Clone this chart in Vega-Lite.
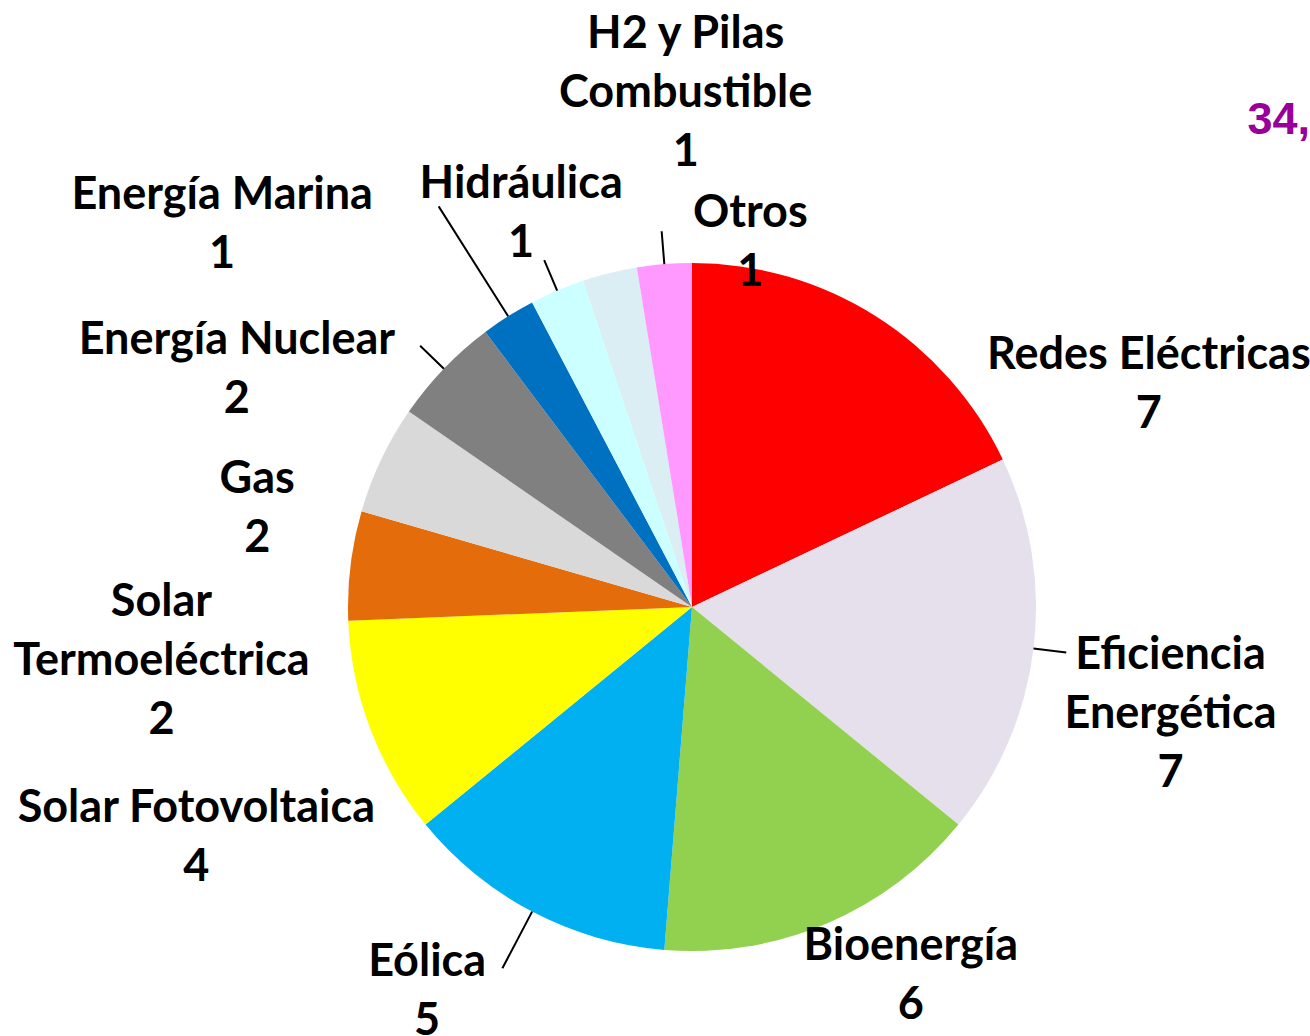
{
  "$schema": "https://vega.github.io/schema/vega-lite/v6.json",
  "width": 1236,
  "height": 858,
  "autosize": {"type": "none"},
  "padding": {"left": 74, "top": 178, "right": 0, "bottom": 0},
  "background": "white",
  "config": {"view": {"stroke": null}, "text": {"font": "Lato", "fontSize": 45, "fontWeight": "bold", "lineHeight": 59, "lineBreak": "\n", "align": "center", "color": "#000000"}},
  "data": {"values": [
    {"category": "Redes Eléctricas", "value": 7},
    {"category": "Eficiencia\nEnergética", "value": 7},
    {"category": "Bioenergía", "value": 6},
    {"category": "Eólica", "value": 5},
    {"category": "Solar Fotovoltaica", "value": 4},
    {"category": "Solar\nTermoeléctrica", "value": 2},
    {"category": "Gas", "value": 2},
    {"category": "Energía Nuclear", "value": 2},
    {"category": "Energía Marina", "value": 1},
    {"category": "Hidráulica", "value": 1},
    {"category": "H2 y Pilas\nCombustible", "value": 1},
    {"category": "Otros", "value": 1}
  ]},
  "transform": [
    {"window": [{"op": "row_number", "as": "rank"}]},
    {"calculate": "datum.category + '\\n' + datum.value", "as": "label"}
  ],
  "layer": [
    {
      "mark": {"type": "arc", "outerRadius": 344},
      "encoding": {
        "theta": {"field": "value", "type": "quantitative", "stack": true},
        "order": {"field": "rank", "type": "quantitative"},
        "color": {"field": "rank", "type": "nominal", "legend": null,
          "scale": {"domain": [1,2,3,4,5,6,7,8,9,10,11,12], "range": ["#FF0000", "#E6E0EC", "#92D050", "#00B0F0", "#FFFF00", "#E46C0A", "#D9D9D9", "#808080", "#0070C0", "#CCFFFF", "#DBEEF4", "#FF99FF"]}}
      }
    },
    {
      "mark": {"type": "arc", "innerRadius": 344, "outerRadius": 377, "padAngle": 3, "filled": false, "stroke": "#000000", "strokeWidth": 2},
      "encoding": {
        "theta": {"field": "value", "type": "quantitative", "stack": true},
        "order": {"field": "rank", "type": "quantitative"},
        "strokeOpacity": {"condition": {"test": "indexof([2, 8, 10, 12], datum.rank) >= 0", "value": 1}, "value": 0}
      }
    },
    {
      "mark": {"type": "arc", "innerRadius": 344, "outerRadius": 408, "padAngle": 3, "filled": false, "stroke": "#000000", "strokeWidth": 2},
      "encoding": {
        "theta": {"field": "value", "type": "quantitative", "stack": true},
        "order": {"field": "rank", "type": "quantitative"},
        "strokeOpacity": {"condition": {"test": "datum.rank == 4", "value": 1}, "value": 0}
      }
    },
    {
      "mark": {"type": "arc", "innerRadius": 344, "outerRadius": 474, "padAngle": 3, "filled": false, "stroke": "#000000", "strokeWidth": 2},
      "encoding": {
        "theta": {"field": "value", "type": "quantitative", "stack": true},
        "order": {"field": "rank", "type": "quantitative"},
        "strokeOpacity": {"condition": {"test": "datum.rank == 9", "value": 1}, "value": 0}
      }
    },
    {"mark": {"type": "text", "radius": 344, "dx": 273, "dy": 39},
     "encoding": {"theta": {"field": "value", "type": "quantitative", "stack": true}, "order": {"field": "rank", "type": "quantitative"}, "text": {"condition": {"test": "datum.rank == 1", "field": "label"}, "value": ""}}},
    {"mark": {"type": "text", "radius": 344, "dx": 137, "dy": 7},
     "encoding": {"theta": {"field": "value", "type": "quantitative", "stack": true}, "order": {"field": "rank", "type": "quantitative"}, "text": {"condition": {"test": "datum.rank == 2", "field": "label"}, "value": ""}}},
    {"mark": {"type": "text", "radius": 344, "dx": 84, "dy": 23},
     "encoding": {"theta": {"field": "value", "type": "quantitative", "stack": true}, "order": {"field": "rank", "type": "quantitative"}, "text": {"condition": {"test": "datum.rank == 3", "field": "label"}, "value": ""}}},
    {"mark": {"type": "text", "radius": 344, "dx": -105, "dy": 50},
     "encoding": {"theta": {"field": "value", "type": "quantitative", "stack": true}, "order": {"field": "rank", "type": "quantitative"}, "text": {"condition": {"test": "datum.rank == 4", "field": "label"}, "value": ""}}},
    {"mark": {"type": "text", "radius": 344, "dx": -174, "dy": 79},
     "encoding": {"theta": {"field": "value", "type": "quantitative", "stack": true}, "order": {"field": "rank", "type": "quantitative"}, "text": {"condition": {"test": "datum.rank == 5", "field": "label"}, "value": ""}}},
    {"mark": {"type": "text", "radius": 344, "dx": -189, "dy": 36},
     "encoding": {"theta": {"field": "value", "type": "quantitative", "stack": true}, "order": {"field": "rank", "type": "quantitative"}, "text": {"condition": {"test": "datum.rank == 6", "field": "label"}, "value": ""}}},
    {"mark": {"type": "text", "radius": 344, "dx": -124, "dy": 19},
     "encoding": {"theta": {"field": "value", "type": "quantitative", "stack": true}, "order": {"field": "rank", "type": "quantitative"}, "text": {"condition": {"test": "datum.rank == 7", "field": "label"}, "value": ""}}},
    {"mark": {"type": "text", "radius": 344, "dx": -207, "dy": -29},
     "encoding": {"theta": {"field": "value", "type": "quantitative", "stack": true}, "order": {"field": "rank", "type": "quantitative"}, "text": {"condition": {"test": "datum.rank == 8", "field": "label"}, "value": ""}}},
    {"mark": {"type": "text", "radius": 344, "dx": -286, "dy": -121},
     "encoding": {"theta": {"field": "value", "type": "quantitative", "stack": true}, "order": {"field": "rank", "type": "quantitative"}, "text": {"condition": {"test": "datum.rank == 9", "field": "label"}, "value": ""}}},
    {"mark": {"type": "text", "radius": 344, "dx": -36, "dy": -107},
     "encoding": {"theta": {"field": "value", "type": "quantitative", "stack": true}, "order": {"field": "rank", "type": "quantitative"}, "text": {"condition": {"test": "datum.rank == 10", "field": "label"}, "value": ""}}},
    {"mark": {"type": "text", "radius": 344, "dx": 76, "dy": -239},
     "encoding": {"theta": {"field": "value", "type": "quantitative", "stack": true}, "order": {"field": "rank", "type": "quantitative"}, "text": {"condition": {"test": "datum.rank == 11", "field": "label"}, "value": ""}}},
    {"mark": {"type": "text", "radius": 344, "dx": 86, "dy": -51},
     "encoding": {"theta": {"field": "value", "type": "quantitative", "stack": true}, "order": {"field": "rank", "type": "quantitative"}, "text": {"condition": {"test": "datum.rank == 12", "field": "label"}, "value": ""}}},
    {
      "data": {"values": [{"note": "34,"}]},
      "transform": [],
      "mark": {"type": "text", "font": "Liberation Sans", "fontSize": 45, "fontWeight": "bold", "align": "right", "color": "#990099", "dy": -58},
      "encoding": {"text": {"field": "note"}, "x": {"value": "width"}, "y": {"value": 0}}
    }
  ]
}
